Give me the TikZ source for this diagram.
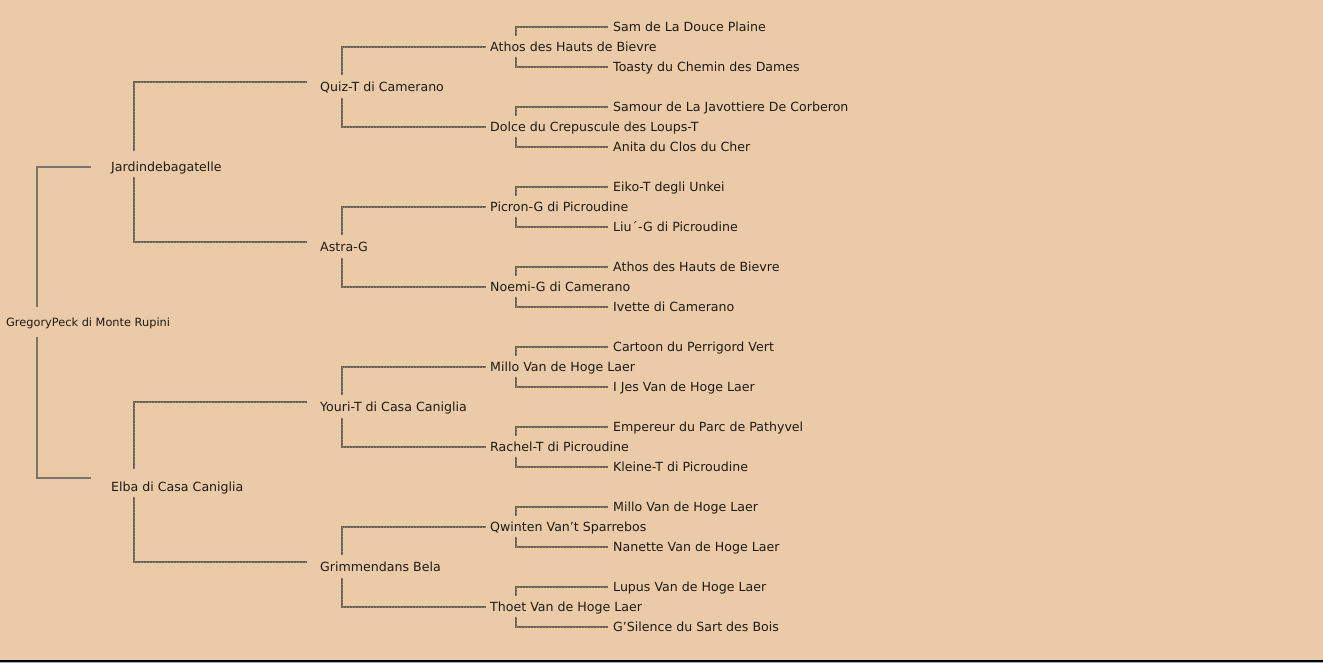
\documentclass[tikz,border=0pt]{standalone}
\usepackage{fontspec}
\setmainfont{DejaVu Sans}
\usetikzlibrary{calc,positioning}
\definecolor{paper}{HTML}{EBCBA7}
\definecolor{ink}{HTML}{1E1A16}
\definecolor{rootline}{HTML}{7A746C}
\definecolor{linkline}{HTML}{6A6158}
\definecolor{linkdot}{HTML}{958A7D}

\begin{document}
\begin{tikzpicture}[x=1pt,y=-1pt,
        every node/.style={anchor=west,inner sep=0pt,text height=9pt,text depth=0pt,text=ink,font=\fontsize{12.6}{14}\selectfont},
        rootlink/.style={draw=rootline,line width=2pt},
        link/.style={draw=linkline,line width=2pt,postaction={draw=linkdot,line width=0.7pt,dash pattern=on 1pt off 2pt}}]
        \def\xg{111}
        \def\xp{320}
        \def\xq{490}
        \def\xl{613}
        \fill[paper] (0,0) rectangle (1323,663);
        \useasboundingbox (0,0) rectangle (1323,663);
        \fill[black!85!blue] (0,660) rectangle (1323,661.5);
        \fill[black!35] (0,661.5) rectangle (1323,663);
        \coordinate (c0) at (37,0);
        \coordinate (c1) at (134,0);
        \coordinate (c2) at (342,0);
        \coordinate (c3) at (516,0);
        % dog
        \node[font=\fontsize{11.35}{13}\selectfont] (gp) at (6,321.5) {GregoryPeck di Monte Rupini};
        % parents
        \node (jb) at (\xg,167) {Jardindebagatelle};
        \node (el) at (\xg,487) {Elba di Casa Caniglia};
        % grandparents
        \node (qz) at (\xp,87) {Quiz-T di Camerano};
        \node (as) at (\xp,247) {Astra-G};
        \node (yo) at (\xp,407) {Youri-T di Casa Caniglia};
        \node (gb) at (\xp,567) {Grimmendans Bela};
        % great-grandparents
        \node (ath) at (\xq,47) {Athos des Hauts de Bievre};
        \node (dol) at (\xq,127) {Dolce du Crepuscule des Loups-T};
        \node (pic) at (\xq,207) {Picron-G di Picroudine};
        \node (noe) at (\xq,287) {Noemi-G di Camerano};
        \node (mil) at (\xq,367) {Millo Van de Hoge Laer};
        \node (rac) at (\xq,447) {Rachel-T di Picroudine};
        \node (qwi) at (\xq,527) {Qwinten Van’t Sparrebos};
        \node (tho) at (\xq,607) {Thoet Van de Hoge Laer};
        % last generation
        \node (sam) at (\xl,27) {Sam de La Douce Plaine};
        \node (toa) at (\xl,67) {Toasty du Chemin des Dames};
        \node (smr) at (\xl,107) {Samour de La Javottiere De Corberon};
        \node (ani) at (\xl,147) {Anita du Clos du Cher};
        \node (eik) at (\xl,187) {Eiko-T degli Unkei};
        \node (liu) at (\xl,227) {Liu´-G di Picroudine};
        \node (ahb) at (\xl,267) {Athos des Hauts de Bievre};
        \node (ive) at (\xl,307) {Ivette di Camerano};
        \node (car) at (\xl,347) {Cartoon du Perrigord Vert};
        \node (ijs) at (\xl,387) {I Jes Van de Hoge Laer};
        \node (emp) at (\xl,427) {Empereur du Parc de Pathyvel};
        \node (kle) at (\xl,467) {Kleine-T di Picroudine};
        \node (mvh) at (\xl,507) {Millo Van de Hoge Laer};
        \node (nan) at (\xl,547) {Nanette Van de Hoge Laer};
        \node (lup) at (\xl,587) {Lupus Van de Hoge Laer};
        \node (gsi) at (\xl,627) {G’Silence du Sart des Bois};
        % links
        \draw[rootlink,shorten <=9.5pt,shorten >=20pt] (gp.north -| c0) |- (jb.west);
        \draw[rootlink,shorten <=10.5pt,shorten >=20pt] (gp.south -| c0) |- ($(el.west)+(0,-9.5)$);
        \draw[link,shorten <=11pt,shorten >=13pt] (jb.north -| c1) |- (qz.north west);
        \draw[link,shorten <=5pt,shorten >=13pt] (jb.south -| c1) |- (as.north west);
        \draw[link,shorten <=13pt,shorten >=13pt] (el.north -| c1) |- (yo.north west);
        \draw[link,shorten <=5pt,shorten >=13pt] (el.south -| c1) |- (gb.north west);
        \draw[link,shorten <=7pt,shorten >=4pt] (qz.north -| c2) |- (ath.west);
        \draw[link,shorten <=6pt,shorten >=4pt] (qz.south -| c2) |- (dol.west);
        \draw[link,shorten <=7pt,shorten >=4pt] (as.north -| c2) |- (pic.west);
        \draw[link,shorten <=6pt,shorten >=4pt] (as.south -| c2) |- (noe.west);
        \draw[link,shorten <=7pt,shorten >=4pt] (yo.north -| c2) |- (mil.west);
        \draw[link,shorten <=6pt,shorten >=4pt] (yo.south -| c2) |- (rac.west);
        \draw[link,shorten <=7pt,shorten >=4pt] (gb.north -| c2) |- (qwi.west);
        \draw[link,shorten <=6pt,shorten >=4pt] (gb.south -| c2) |- (tho.west);
        \draw[link,shorten <=6.5pt,shorten >=5pt] (ath.north -| c3) |- (sam.west);
        \draw[link,shorten <=5.5pt,shorten >=5pt] (ath.south -| c3) |- (toa.west);
        \draw[link,shorten <=6.5pt,shorten >=5pt] (dol.north -| c3) |- (smr.west);
        \draw[link,shorten <=5.5pt,shorten >=5pt] (dol.south -| c3) |- (ani.west);
        \draw[link,shorten <=6.5pt,shorten >=5pt] (pic.north -| c3) |- (eik.west);
        \draw[link,shorten <=5.5pt,shorten >=5pt] (pic.south -| c3) |- (liu.west);
        \draw[link,shorten <=6.5pt,shorten >=5pt] (noe.north -| c3) |- (ahb.west);
        \draw[link,shorten <=5.5pt,shorten >=5pt] (noe.south -| c3) |- (ive.west);
        \draw[link,shorten <=6.5pt,shorten >=5pt] (mil.north -| c3) |- (car.west);
        \draw[link,shorten <=5.5pt,shorten >=5pt] (mil.south -| c3) |- (ijs.west);
        \draw[link,shorten <=6.5pt,shorten >=5pt] (rac.north -| c3) |- (emp.west);
        \draw[link,shorten <=5.5pt,shorten >=5pt] (rac.south -| c3) |- (kle.west);
        \draw[link,shorten <=6.5pt,shorten >=5pt] (qwi.north -| c3) |- (mvh.west);
        \draw[link,shorten <=5.5pt,shorten >=5pt] (qwi.south -| c3) |- (nan.west);
        \draw[link,shorten <=6.5pt,shorten >=5pt] (tho.north -| c3) |- (lup.west);
        \draw[link,shorten <=5.5pt,shorten >=5pt] (tho.south -| c3) |- (gsi.west);
        \end{tikzpicture}
\end{document}
